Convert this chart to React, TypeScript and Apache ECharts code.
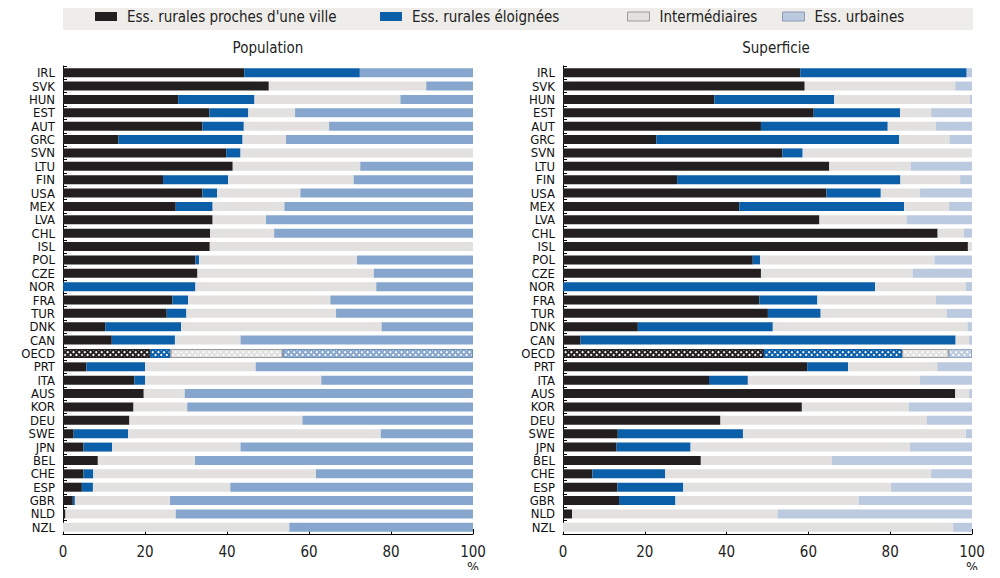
import React, { useEffect, useRef } from "react";
import * as echarts from "echarts";

const categories = ["IRL","SVK","HUN","EST","AUT","GRC","SVN","LTU","FIN","USA","MEX","LVA","CHL","ISL","POL","CZE","NOR","FRA","TUR","DNK","CAN","OECD","PRT","ITA","AUS","KOR","DEU","SWE","JPN","BEL","CHE","ESP","GBR","NLD","NZL"];

const seriesNames = ["Ess. rurales proches d'une ville", "Ess. rurales éloignées", "Intermédiaires", "Ess. urbaines"];

const popNear = [44.2,50.2,28.1,35.7,34.0,13.5,39.8,41.4,24.4,34.0,27.5,36.5,35.9,35.8,32.3,32.8,0,26.7,25.3,10.3,11.9,21.3,5.7,17.4,19.7,17.2,16.2,2.6,5.0,8.5,5.0,4.6,2.4,0.6,0];
const popRemote = [28.2,0,18.6,9.5,10.1,30.3,3.5,0,15.9,3.6,9.0,0,0,0,0.9,0,32.3,3.8,4.8,18.5,15.4,4.9,14.3,2.6,0,0,0,13.3,7.0,0,2.4,2.7,0.5,0,0];
const popInter = [0,38.4,35.6,11.4,20.8,10.6,56.7,31.1,30.6,20.3,17.5,13.0,15.6,64.2,38.5,43.0,44.1,34.7,36.5,48.9,16.0,27.4,27.0,43.0,10.0,13.1,42.2,61.6,31.3,23.7,54.3,33.5,23.2,26.9,55.2];
const popUrban = [27.6,11.4,17.7,43.4,35.1,45.6,0,27.5,29.1,42.1,46.0,50.5,48.5,0,28.3,24.2,23.6,34.8,33.4,22.3,56.7,46.4,53.0,37.0,70.3,69.7,41.6,22.5,56.7,67.8,38.3,59.2,73.9,72.5,44.8];

const areaNear = [58.0,59.1,37.0,61.3,48.4,22.8,53.6,65.1,27.9,64.4,43.1,62.7,91.6,99.0,46.4,48.4,0,48.0,50.1,18.3,4.3,49.1,59.7,35.7,95.9,58.4,38.5,13.4,13.1,33.7,7.2,13.3,13.7,2.2,0];
const areaRemote = [40.7,0,29.3,21.1,31.0,59.4,5.0,0,54.6,13.3,40.3,0,0,0,1.8,0,76.3,14.2,12.9,33.0,91.7,33.8,10.0,9.5,0,0,0,30.6,18.1,0,17.8,16.1,13.8,0,0];
const areaInter = [0,36.8,33.2,7.6,11.8,12.3,41.4,19.9,14.6,9.6,11.0,21.3,6.4,1.0,42.6,37.1,22.2,29.0,30.8,47.6,3.3,11.4,21.8,42.1,3.4,26.1,50.4,54.5,53.6,32.0,65.0,50.8,44.8,50.3,95.4];
const areaUrban = [1.3,4.1,0.5,10.0,8.8,5.5,0,15.0,2.9,12.7,5.6,16.0,2.0,0,9.2,14.5,1.5,8.8,6.2,1.1,0.7,5.7,8.5,12.7,0.7,15.5,11.1,1.5,15.2,34.3,10.0,19.8,27.7,47.5,4.6];

const xTicks = [0, 20, 40, 60, 80, 100];
const panelTitles = ["Population", "Superficie"];

const FONT = "'Liberation Sans Narrow', 'DejaVu Sans Condensed', 'Arial Narrow', sans-serif";
const C_NEAR = "#231f20";
const C_REMOTE = "#0b5ea8";
const C_INTER = "#e3e1df";
const C_URBAN_L = "#87a6cd";
const C_URBAN_R = "#bccadf";

function buildData(values: number[], color: string, border: string) {
  return values.map((v, i) =>
    categories[i] === "OECD"
      ? {
          value: v,
          itemStyle: {
            color: color,
            borderColor: border,
            borderWidth: 1,
            decal: {
              symbol: "rect",
              symbolSize: 1,
              color: "#ffffff",
              dashArrayX: [2, 1.4],
              dashArrayY: [2, 1.4],
              rotation: Math.PI / 4,
            },
          },
        }
      : v
  );
}

export default function App() {
  const ref = useRef<HTMLDivElement>(null);
  useEffect(() => {
    if (!ref.current) return;
    const chart = echarts.init(ref.current, null, { renderer: "svg" });
    const gridLefts = [63, 563];
    const gridWidths = [410, 409];
    const panels = [
      [popNear, popRemote, popInter, popUrban],
      [areaNear, areaRemote, areaInter, areaUrban],
    ];
    const colorsByPanel = [
      [C_NEAR, C_REMOTE, C_INTER, C_URBAN_L],
      [C_NEAR, C_REMOTE, C_INTER, C_URBAN_R],
    ];
    const bordersByPanel = [
      [C_NEAR, C_REMOTE, "#9a9a9a", "#6f8db5"],
      [C_NEAR, C_REMOTE, "#9a9a9a", "#93a6c2"],
    ];
    const series: any[] = [];
    panels.forEach((vals, p) => {
      vals.forEach((arr, s) => {
        series.push({
          name: seriesNames[s],
          type: "bar",
          stack: "p" + p,
          xAxisIndex: p,
          yAxisIndex: p,
          barWidth: 9,
          itemStyle: { color: colorsByPanel[p][s] },
          emphasis: { disabled: true },
          data: buildData(arr, colorsByPanel[p][s], bordersByPanel[p][s]),
        });
      });
    });

    const legendLefts = [95, 380, 627, 782];
    const legendStyles = [
      { color: C_NEAR },
      { color: C_REMOTE },
      { color: C_INTER, borderColor: "#9a9a9a", borderWidth: 1 },
      { color: C_URBAN_R, borderColor: "#8a9ab3", borderWidth: 1 },
    ];

    const option: any = {
      animation: false,
      backgroundColor: "#ffffff",
      legend: seriesNames.map((n, i) => ({
        left: legendLefts[i],
        top: 9,
        padding: 0,
        itemWidth: 22,
        itemHeight: 9,
        selectedMode: false,
        data: [{ name: n, itemStyle: legendStyles[i], icon: "rect" }],
        textStyle: { fontFamily: FONT, fontSize: 15, color: "#222", padding: [0, 0, 0, 5] },
      })),
      graphic: [
        {
          type: "rect",
          z: -10,
          shape: { x: 63, y: 2, width: 910, height: 28 },
          style: { fill: "#efedea" },
        },
        {
          type: "text",
          x: 268,
          y: 48,
          style: { text: panelTitles[0], textAlign: "center", textVerticalAlign: "middle", fontFamily: FONT, fontSize: 15, fill: "#222" },
        },
        {
          type: "text",
          x: 776,
          y: 48,
          style: { text: panelTitles[1], textAlign: "center", textVerticalAlign: "middle", fontFamily: FONT, fontSize: 15, fill: "#222" },
        },
        {
          type: "text",
          x: 473,
          y: 567,
          style: { text: "%", textAlign: "center", textVerticalAlign: "middle", fontFamily: FONT, fontSize: 14, fill: "#222" },
        },
        {
          type: "text",
          x: 972,
          y: 567,
          style: { text: "%", textAlign: "center", textVerticalAlign: "middle", fontFamily: FONT, fontSize: 14, fill: "#222" },
        },
      ],
      grid: gridLefts.map((l, i) => ({ left: l, width: gridWidths[i], top: 66, height: 468 })),
      xAxis: [0, 1].map((i) => ({
        type: "value",
        gridIndex: i,
        min: xTicks[0],
        max: xTicks[xTicks.length - 1],
        interval: 20,
        axisLine: { show: true, lineStyle: { color: "#000", width: 1 } },
        axisTick: { show: true, inside: true, length: 5, lineStyle: { color: "#000" } },
        splitLine: { show: false },
        axisLabel: { fontFamily: FONT, fontSize: 15, color: "#222", margin: 10 },
      })),
      yAxis: [0, 1].map((i) => ({
        type: "category",
        gridIndex: i,
        inverse: true,
        data: categories,
        axisLine: { show: true, lineStyle: { color: "#000", width: 1 } },
        axisTick: { show: true, inside: true, length: 4, lineStyle: { color: "#000" } },
        axisLabel: { fontFamily: FONT, fontSize: 13, lineHeight: 13, color: "#111", margin: 8, interval: 0 },
      })),
      series,
    };
    chart.setOption(option);
    return () => chart.dispose();
  }, []);
  return <div ref={ref} style={{ width: 1000, height: 578, margin: -8 }} />;
}
